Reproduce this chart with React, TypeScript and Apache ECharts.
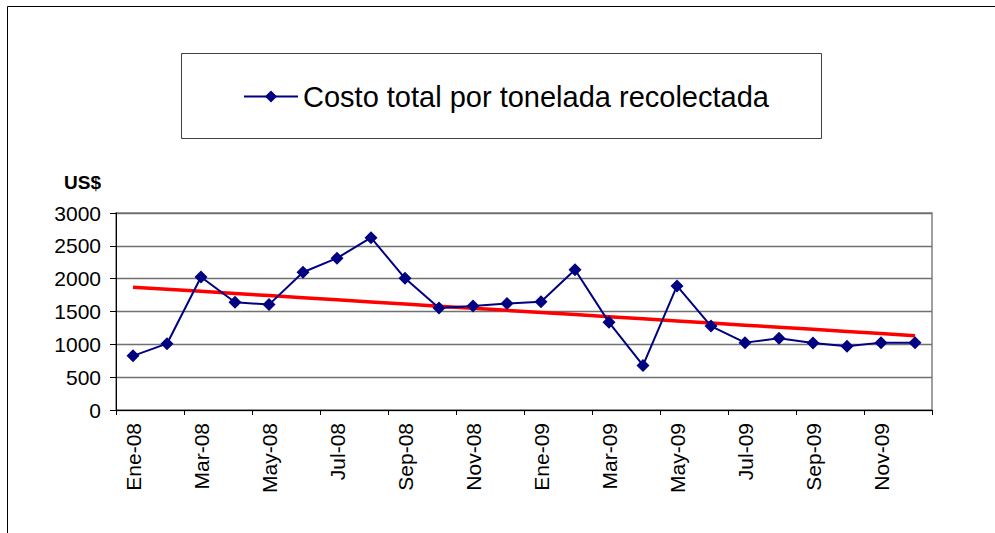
import React, { useEffect, useRef } from "react";
import * as echarts from "echarts";

const months: string[] = [
  "Ene-08", "Feb-08", "Mar-08", "Abr-08", "May-08", "Jun-08",
  "Jul-08", "Ago-08", "Sep-08", "Oct-08", "Nov-08", "Dic-08",
  "Ene-09", "Feb-09", "Mar-09", "Abr-09", "May-09", "Jun-09",
  "Jul-09", "Ago-09", "Sep-09", "Oct-09", "Nov-09", "Dic-09",
];

const costPerTon: number[] = [
  825, 1010, 2025, 1640, 1605, 2098,
  2312, 2625, 2005, 1555, 1585, 1620,
  1650, 2135, 1335, 678, 1889, 1278,
  1026, 1093, 1020, 970, 1026, 1026,
];

const yTicks = { min: 0, max: 3000, interval: 500 };
const seriesName = "Costo total por tonelada recolectada";
const yUnit = "US$";

// Linear (least squares) trendline, as Excel's linear trendline
function linearTrend(values: number[]): number[] {
  const n = values.length;
  let sx = 0, sy = 0, sxy = 0, sxx = 0;
  values.forEach((v, i) => {
    sx += i; sy += v; sxy += i * v; sxx += i * i;
  });
  const slope = (n * sxy - sx * sy) / (n * sxx - sx * sx);
  const intercept = (sy - slope * sx) / n;
  return values.map((_, i) => intercept + slope * i);
}

const FONT = "'Liberation Sans', Arial, sans-serif";

export default function App() {
  const ref = useRef<HTMLDivElement>(null);
  useEffect(() => {
    if (!ref.current) return;
    const chart = echarts.init(ref.current, undefined, { renderer: "svg" });
    const trend = linearTrend(costPerTon);
    chart.setOption({
      animation: false,
      backgroundColor: "#ffffff",
      textStyle: { fontFamily: FONT },
      graphic: [
        {
          type: "rect",
          shape: { x: 7.5, y: 6.5, width: 1100, height: 600 },
          style: { fill: "none", stroke: "#000000", lineWidth: 1 },
          silent: true,
        },
        {
          type: "rect",
          shape: { x: 181.5, y: 53.5, width: 640, height: 85 },
          style: { fill: "#ffffff", stroke: "#404040", lineWidth: 1 },
          silent: true,
          z: 0,
        },
        {
          type: "text",
          x: 101,
          y: 182,
          style: {
            text: yUnit,
            font: `bold 19px ${FONT}`,
            fill: "#000000",
            align: "right",
            verticalAlign: "middle",
          },
        },
      ],
      legend: {
        data: [seriesName],
        left: 243,
        top: 82,
        itemWidth: 54,
        itemHeight: 15,
        itemGap: 8,
        padding: 0,
        textStyle: { fontSize: 29, color: "#000000", fontFamily: FONT },
        z: 10,
      },
      grid: {
        left: 116,
        right: 63,
        top: 213,
        bottom: 123,
        show: true,
        borderColor: "#808080",
        borderWidth: 1.5,
        backgroundColor: "transparent",
      },
      xAxis: {
        type: "category",
        data: months,
        boundaryGap: true,
        axisLine: { show: true, lineStyle: { color: "#000000", width: 1 } },
        axisTick: {
          show: true,
          interval: 1,
          length: 5,
          lineStyle: { color: "#000000" },
        },
        axisLabel: {
          interval: 1,
          rotate: 90,
          margin: 13,
          fontSize: 21,
          color: "#000000",
          fontFamily: FONT,
        },
        splitLine: { show: false },
      },
      yAxis: {
        type: "value",
        min: yTicks.min,
        max: yTicks.max,
        interval: yTicks.interval,
        axisLine: { show: true, lineStyle: { color: "#000000", width: 1 } },
        axisTick: { show: true, length: 6, lineStyle: { color: "#000000" } },
        axisLabel: {
          fontSize: 21,
          color: "#000000",
          margin: 15,
          fontFamily: FONT,
          formatter: (v: number) => String(v),
        },
        splitLine: { show: true, lineStyle: { color: "#707070", width: 1.3 } },
      },
      series: [
        {
          name: seriesName,
          type: "line",
          data: costPerTon,
          color: "#000080",
          symbol: "diamond",
          symbolSize: 13,
          lineStyle: { color: "#000080", width: 2 },
          itemStyle: { color: "#000080" },
          z: 3,
        },
        {
          name: "Tendencia",
          type: "line",
          data: trend,
          symbol: "none",
          lineStyle: { color: "#ff0000", width: 3.5 },
          z: 2,
        },
      ],
    });
    return () => chart.dispose();
  }, []);
  return (
    <div
      ref={ref}
      style={{ position: "fixed", left: 0, top: 0, width: 995, height: 533 }}
    />
  );
}
